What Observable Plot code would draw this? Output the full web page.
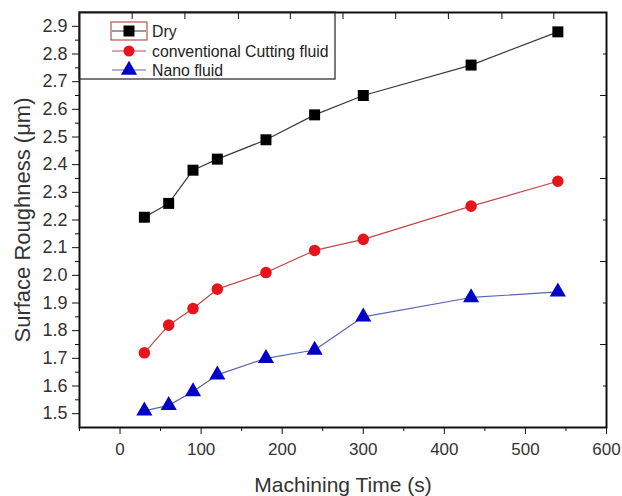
<!DOCTYPE html>
<html>
<head>
<meta charset="utf-8">
<script src="https://cdn.jsdelivr.net/npm/d3@7"></script>
<script src="https://cdn.jsdelivr.net/npm/@observablehq/plot@0.6"></script>
<style>
  html, body { margin: 0; padding: 0; background: #fff; }
  svg { display: block; }
</style>
</head>
<body>
<div id="chart"></div>
<script>
// ---- data ----
const times = [30, 60, 90, 120, 180, 240, 300, 433, 540];
const dryValues = [2.21, 2.26, 2.38, 2.42, 2.49, 2.58, 2.65, 2.76, 2.88];
const conventionalValues = [1.72, 1.82, 1.88, 1.95, 2.01, 2.09, 2.13, 2.25, 2.34];
const nanoValues = [1.51, 1.53, 1.58, 1.64, 1.70, 1.73, 1.85, 1.92, 1.94];
const seriesNames = ["Dry", "conventional Cutting fluid", "Nano fluid"];

const xTicks = [0, 100, 200, 300, 400, 500, 600];
const xMinorTicks = [-50, 50, 150, 250, 350, 450, 550];
const yTicks = [1.5, 1.6, 1.7, 1.8, 1.9, 2.0, 2.1, 2.2, 2.3, 2.4, 2.5, 2.6, 2.7, 2.8, 2.9];
const yMinorTicks = [1.55, 1.65, 1.75, 1.85, 1.95, 2.05, 2.15, 2.25, 2.35, 2.45, 2.55, 2.65, 2.75, 2.85];
const topTicks = [15, 80, 146, 210, 275, 340, 405, 471, 535];
const rightMajorTicks = [1.75, 2.05, 2.35, 2.65];
const rightMinorTicks = [1.6, 1.9, 2.2, 2.5, 2.8];
const xTitle = ["Machining Time (s)"];
const yTitle = ["Surface Roughness (\u03bcm)"];

// ---- build table ----
const styles = [
  {symbol: "square", fill: "#000000", stroke: "#3a3a3a", r: 6.2},
  {symbol: "circle", fill: "#e8141c", stroke: "#c04848", r: 5.8},
  {symbol: "triangle", fill: "#0000c8", stroke: "#5a66b0", r: 6.0}
];
const allValues = [dryValues, conventionalValues, nanoValues];
const series = seriesNames.map((name, s) =>
  times.map((t, i) => ({series: name, time: t, value: allValues[s][i]}))
);

const font = "'Liberation Sans', Arimo, Arial, sans-serif";
const marks = [
  Plot.axisX(xTicks, {tickSize: 7, tickPadding: 8, fontSize: 17, label: null, color: "#333", stroke: "#111"}),
  Plot.axisX(xMinorTicks, {tickSize: 4, tickFormat: () => "", label: null, stroke: "#111"}),
  Plot.axisY(yTicks, {tickSize: 7, tickPadding: 5, fontSize: 18, tickFormat: d3.format(".1f"), label: null, color: "#333", stroke: "#111"}),
  Plot.axisY(yMinorTicks, {tickSize: 4, tickFormat: () => "", label: null, stroke: "#111"}),
  Plot.axisX(topTicks, {anchor: "top", tickSize: -6, tickFormat: () => "", label: null, stroke: "#111"}),
  Plot.axisY(rightMajorTicks, {anchor: "right", tickSize: -7, tickFormat: () => "", label: null, stroke: "#111"}),
  Plot.axisY(rightMinorTicks, {anchor: "right", tickSize: -4, tickFormat: () => "", label: null, stroke: "#111"}),
  Plot.frame({stroke: "#111", strokeWidth: 2})
];
series.forEach((data, s) => {
  marks.push(Plot.line(data, {x: "time", y: "value", stroke: styles[s].stroke, strokeWidth: 1.2}));
  marks.push(Plot.dot(data, {x: "time", y: "value", symbol: () => styles[s].symbol, fill: styles[s].fill, r: styles[s].r, stroke: "none"}));
});
marks.push(Plot.text(xTitle, {text: d => d, frameAnchor: "bottom", textAnchor: "middle", lineAnchor: "middle", dy: 58, fontSize: 21, fill: "#333"}));
marks.push(Plot.text(yTitle, {text: d => d, frameAnchor: "left", textAnchor: "middle", lineAnchor: "middle", dx: -57, rotate: -90, fontSize: 22, fill: "#333"}));

const chart = Plot.plot({
  width: 622,
  height: 496,
  marginLeft: 79,
  marginRight: 16,
  marginTop: 12,
  marginBottom: 69,
  style: {fontFamily: font, fontSize: "17px", background: "#fff", color: "#333"},
  x: {domain: [-50, 600], axis: null},
  y: {domain: [1.45, 2.95], axis: null},
  symbol: {domain: ["square", "circle", "triangle"], range: ["square", "circle", "triangle"]},
  marks
});
document.getElementById("chart").appendChild(chart);

// ---- legend (inside plot, top-left) ----
const svg = d3.select(chart);
const lg = svg.append("g").attr("font-family", font).attr("text-anchor", "start");
lg.append("rect").attr("x", 79).attr("y", 12).attr("width", 256).attr("height", 67)
  .attr("fill", "none").attr("stroke", "#222").attr("stroke-width", 1.2);
const rowY = [31, 51, 70];
const symGen = [d3.symbolSquare, d3.symbolCircle, d3.symbolTriangle];
seriesNames.forEach((name, s) => {
  const y = rowY[s];
  lg.append("line").attr("x1", 112).attr("x2", 146).attr("y1", y).attr("y2", y)
    .attr("stroke", styles[s].stroke).attr("stroke-width", 1.2);
  const size = Math.PI * styles[s].r * styles[s].r;
  lg.append("path").attr("d", d3.symbol(symGen[s], s === 1 ? size * 0.9 : size)())
    .attr("transform", `translate(129,${y})`).attr("fill", styles[s].fill);
  lg.append("text").attr("x", 152).attr("y", y).attr("dy", "0.35em")
    .attr("text-anchor", "start")
    .attr("font-size", 15.8).attr("fill", "#222").text(name);
});
lg.append("rect").attr("x", 111).attr("y", 22).attr("width", 36).attr("height", 18)
  .attr("fill", "none").attr("stroke", "#b0584a").attr("stroke-width", 1.2);
</script>
</body>
</html>
